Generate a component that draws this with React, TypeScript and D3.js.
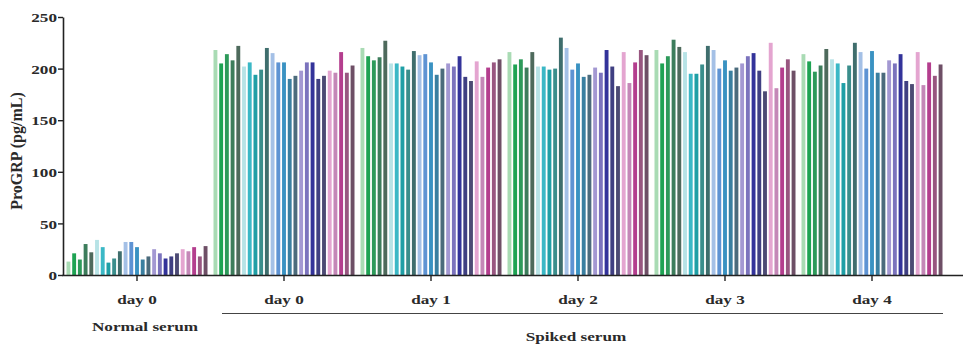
import React, { useEffect, useRef } from 'react';
import * as d3 from 'd3';

// groups shown on the x axis
const groups = ['normal-d0', 'spiked-d0', 'spiked-d1', 'spiked-d2', 'spiked-d3', 'spiked-d4'];
const groupLabels = ['day 0', 'day 0', 'day 1', 'day 2', 'day 3', 'day 4'];

// ProGRP (pg/mL) for the 25 samples in each group
const normalDay0 = [13, 21, 15, 30, 22, 34, 27, 12, 16, 23, 32, 32, 27, 15, 18, 25, 21, 16, 18, 21, 25, 23, 27, 18, 28];
const spikedDay0 = [218, 205, 214, 208, 222, 202, 206, 194, 199, 220, 215, 206, 206, 190, 193, 198, 206, 206, 190, 193, 198, 196, 216, 196, 203];
const spikedDay1 = [220, 212, 208, 211, 227, 205, 205, 202, 199, 217, 213, 214, 206, 194, 200, 205, 202, 212, 192, 188, 207, 192, 201, 206, 209];
const spikedDay2 = [216, 204, 209, 201, 216, 202, 202, 199, 200, 230, 220, 199, 205, 192, 194, 201, 196, 218, 202, 183, 216, 186, 206, 218, 213];
const spikedDay3 = [218, 205, 212, 228, 221, 216, 195, 195, 204, 222, 218, 200, 208, 198, 201, 205, 212, 215, 198, 178, 225, 181, 201, 209, 198];
const spikedDay4 = [214, 207, 197, 203, 219, 209, 205, 186, 203, 225, 216, 200, 217, 196, 196, 208, 205, 214, 188, 185, 216, 184, 206, 193, 204];

const series = [normalDay0, spikedDay0, spikedDay1, spikedDay2, spikedDay3, spikedDay4];

const sampleColors = [
  '#a9dbb4', '#1ea353', '#2d9a5a', '#3d7d5c', '#4e6a5c',
  '#b7e3e6', '#3bb8c6', '#1f9fa6', '#3a8e8c', '#3f6e6d',
  '#a4c0e6', '#5e93d3', '#3a92c2', '#3a7fa0', '#4b6b7c',
  '#a398d2', '#7b73bd', '#33339a', '#3f3f82', '#4c4a74',
  '#e4a5d0', '#c487b7', '#b43e8e', '#985680', '#6e4f66',
];

const yTicks = [0, 50, 100, 150, 200, 250];

const W = 967;
const H = 344;
const FONT = '"Liberation Serif", "Times New Roman", serif';
const SX = 1.27; // the source picture is stretched horizontally

const App: React.FC = () => {
  const svgRef = useRef<SVGSVGElement>(null);

  useEffect(() => {
    document.body.style.margin = '0';
    if (!svgRef.current) return;
    const svg = d3.select(svgRef.current);
    svg.selectAll('*').remove();

    const x0 = d3.scaleBand<string>().domain(groups).range([63.5, 945.5]).padding(0);
    const x1 = d3.scaleBand<number>()
      .domain(d3.range(25))
      .range([3, x0.bandwidth() - 3])
      .paddingInner(0.32);
    const y = d3.scaleLinear().domain([0, 250]).range([275, 17]);

    const data = groups.map((g, gi) => ({ g, values: series[gi] }));

    const gGroups = svg.append('g')
      .selectAll('g')
      .data(data)
      .join('g')
      .attr('transform', d => `translate(${x0(d.g)},0)`);

    gGroups.selectAll('rect')
      .data(d => d.values)
      .join('rect')
      .attr('x', (_, i) => x1(i)!)
      .attr('width', x1.bandwidth())
      .attr('y', v => y(v))
      .attr('height', v => y(0) - y(v))
      .attr('fill', (_, i) => sampleColors[i]);

    // y axis
    const yAxis = svg.append('g')
      .attr('transform', 'translate(63,0)')
      .call(d3.axisLeft(y).tickValues(yTicks).tickSize(5).tickSizeOuter(0));
    yAxis.select('.domain').attr('stroke', '#222').attr('stroke-width', 1.6);
    yAxis.selectAll('.tick line').attr('stroke', '#222').attr('stroke-width', 1.4);
    yAxis.selectAll('.tick text')
      .attr('x', -6 / SX)
      .attr('dy', '0.35em')
      .attr('transform', `scale(${SX},1)`)
      .attr('fill', '#2a2a2a')
      .attr('font-family', FONT)
      .attr('font-weight', 'bold')
      .attr('font-size', 13.5);

    // x axis
    const xAxis = svg.append('g');
    xAxis.append('line')
      .attr('x1', 62.2).attr('x2', 963)
      .attr('y1', y(0) + 0.5).attr('y2', y(0) + 0.5)
      .attr('stroke', '#222').attr('stroke-width', 1.6);
    const xt = xAxis.selectAll('g.xt')
      .data(groups)
      .join('g')
      .attr('class', 'xt')
      .attr('transform', d => `translate(${x0(d)! + x0.bandwidth() / 2},0)`);
    xt.append('line')
      .attr('y1', y(0)).attr('y2', y(0) + 6)
      .attr('stroke', '#222').attr('stroke-width', 1.4);
    xt.append('text')
      .text((_, i) => groupLabels[i])
      .attr('transform', `translate(0,304) scale(${SX},1)`)
      .attr('text-anchor', 'middle')
      .attr('fill', '#2a2a2a')
      .attr('font-family', FONT)
      .attr('font-weight', 'bold')
      .attr('font-size', 13.5);

    // group captions
    const normalX = x0(groups[0])! + x0.bandwidth() / 2 + 8;
    svg.append('text')
      .text('Normal serum')
      .attr('transform', `translate(${normalX},331) scale(${SX},1)`)
      .attr('text-anchor', 'middle')
      .attr('fill', '#2a2a2a')
      .attr('font-family', FONT)
      .attr('font-weight', 'bold')
      .attr('font-size', 13.5);

    svg.append('line')
      .attr('x1', 222).attr('x2', 943)
      .attr('y1', 313.5).attr('y2', 313.5)
      .attr('stroke', '#444').attr('stroke-width', 1);

    svg.append('text')
      .text('Spiked serum')
      .attr('transform', `translate(576,341) scale(${SX},1)`)
      .attr('text-anchor', 'middle')
      .attr('fill', '#2a2a2a')
      .attr('font-family', FONT)
      .attr('font-weight', 'bold')
      .attr('font-size', 13.5);

    // y title
    svg.append('text')
      .text('ProGRP (pg/mL)')
      .attr('transform', 'translate(22,151) rotate(-90)')
      .attr('text-anchor', 'middle')
      .attr('fill', '#2a2a2a')
      .attr('font-family', FONT)
      .attr('font-weight', 'bold')
      .attr('font-size', 16);
  }, []);

  return <svg ref={svgRef} width={W} height={H} style={{ display: 'block', background: '#fff' }} />;
};

export default App;
